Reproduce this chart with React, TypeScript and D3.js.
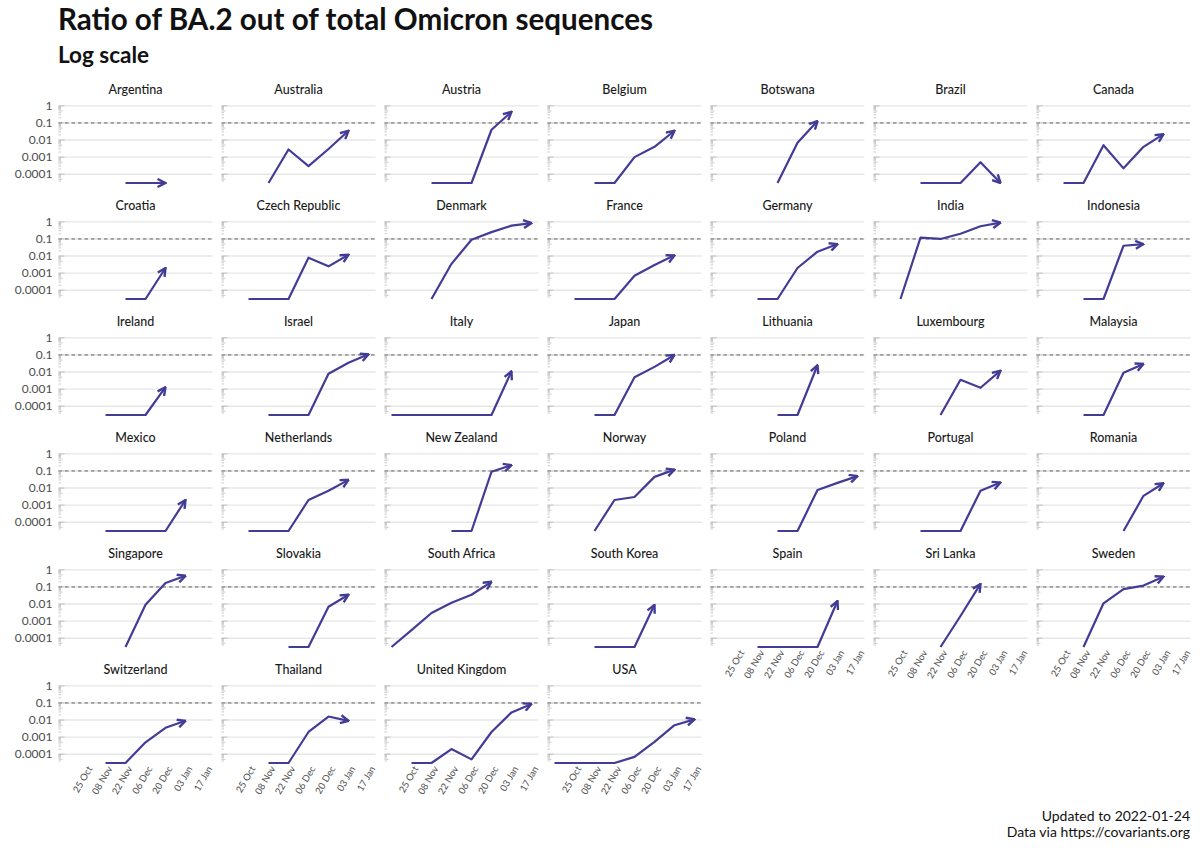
import * as React from "react";
import * as d3 from "d3";

// biweekly bins (covariants.org)
const dates = [
  "2021-10-11", "2021-10-25", "2021-11-08", "2021-11-22",
  "2021-12-06", "2021-12-20", "2022-01-03", "2022-01-17",
];

const countries = [
  "Argentina", "Australia", "Austria", "Belgium", "Botswana", "Brazil", "Canada",
  "Croatia", "Czech Republic", "Denmark", "France", "Germany", "India", "Indonesia",
  "Ireland", "Israel", "Italy", "Japan", "Lithuania", "Luxembourg", "Malaysia",
  "Mexico", "Netherlands", "New Zealand", "Norway", "Poland", "Portugal", "Romania",
  "Singapore", "Slovakia", "South Africa", "South Korea", "Spain", "Sri Lanka", "Sweden",
  "Switzerland", "Thailand", "United Kingdom", "USA",
];

const n = null;
// BA.2 / all Omicron, one row per country, aligned with dates (0 = none found)
const ratios: (number | null)[][] = [
  [n, n, n, 0, 0, 0, n, n], // Argentina
  [n, n, 0, 0.0028, 0.0003, 0.003, 0.035, n], // Australia
  [n, n, 0, 0, 0, 0.04, 0.45, n], // Austria
  [n, n, 0, 0, 0.001, 0.004, 0.035, n], // Belgium
  [n, n, n, 0, 0.007, 0.13, n, n], // Botswana
  [n, n, 0, 0, 0, 0.0005, 0, n], // Brazil
  [n, 0, 0, 0.005, 0.00022, 0.004, 0.022, n], // Canada
  [n, n, n, 0, 0, 0.002, n, n], // Croatia
  [n, 0, 0, 0, 0.008, 0.0025, 0.012, n], // Czech Republic
  [n, n, 0, 0.0035, 0.09, 0.25, 0.6, 0.85], // Denmark
  [n, 0, 0, 0, 0.0007, 0.003, 0.011, n], // France
  [n, n, 0, 0, 0.002, 0.018, 0.05, n], // Germany
  [n, 0, 0.12, 0.1, 0.2, 0.55, 0.9, n], // India
  [n, n, 0, 0, 0.04, 0.05, n, n], // Indonesia
  [n, n, 0, 0, 0, 0.0013, n, n], // Ireland
  [n, n, 0, 0, 0, 0.008, 0.035, 0.11], // Israel
  [0, 0, 0, 0, 0, 0, 0.011, n], // Italy
  [n, n, 0, 0, 0.005, 0.02, 0.1, n], // Japan
  [n, n, n, 0, 0, 0.025, n, n], // Lithuania
  [n, n, n, 0, 0.0035, 0.0012, 0.012, n], // Luxembourg
  [n, n, 0, 0, 0.009, 0.03, n, n], // Malaysia
  [n, n, 0, 0, 0, 0, 0.002, n], // Mexico
  [n, 0, 0, 0, 0.002, 0.007, 0.03, n], // Netherlands
  [n, n, n, 0, 0, 0.09, 0.22, n], // New Zealand
  [n, n, 0, 0.002, 0.003, 0.045, 0.12, n], // Norway
  [n, n, n, 0, 0, 0.0076, 0.02, 0.05], // Poland
  [n, n, 0, 0, 0, 0.007, 0.021, n], // Portugal
  [n, n, n, n, 0, 0.0035, 0.019, n], // Romania
  [n, n, n, 0, 0.009, 0.17, 0.45, n], // Singapore
  [n, n, n, 0, 0, 0.007, 0.035, n], // Slovakia
  [0, 0.0003, 0.003, 0.012, 0.035, 0.2, n, n], // South Africa
  [n, n, 0, 0, 0, 0.009, n, n], // South Korea
  [n, n, 0, 0, 0, 0, 0.015, n], // Spain
  [n, n, n, 0, 0.002, 0.15, n, n], // Sri Lanka
  [n, n, 0, 0.011, 0.075, 0.12, 0.4, n], // Sweden
  [n, n, 0, 0, 0.0005, 0.0035, 0.009, n], // Switzerland
  [n, n, 0, 0, 0.002, 0.016, 0.009, n], // Thailand
  [n, 0, 0, 0.0002, 0.00005, 0.002, 0.028, 0.088], // United Kingdom
  [0, 0, 0, 0, 0.00007, 0.00053, 0.005, 0.011], // USA
];

const yTicks = [1, 0.1, 0.01, 0.001, 0.0001];
const yTickLabels = ["1", "0.1", "0.01", "0.001", "0.0001"];
const xTicks = ["2021-10-25", "2021-11-08", "2021-11-22", "2021-12-06", "2021-12-20", "2022-01-03", "2022-01-17"];
const refLine = 0.1;

const W = 1200;
const H = 852;
const nCols = 7;
const left0 = 58.5;
const colPitch = 163;
const panelW = 154;
const top0 = 103;
const rowPitch = 116;
const panelH = 80;
const lineColor = "#433c96";
const font = "Lato, 'Noto Sans', sans-serif";

const parse = d3.utcParse("%Y-%m-%d");
const fmt = d3.utcFormat("%d %b");
const dateObjs = dates.map((d) => parse(d) as Date);

// x domain: data range expanded by 5%
const [dMin, dMax] = d3.extent(dateObjs) as [Date, Date];
const xPad = (+dMax - +dMin) * 0.05;
const x = d3
  .scaleUtc()
  .domain([new Date(+dMin - xPad), new Date(+dMax + xPad)])
  .range([0, panelW]);

// y domain: positive values, log10 expanded by 5%
const positives = ratios.flat().filter((v): v is number => v !== null && v > 0);
const lo = Math.log10(d3.min(positives) as number);
const hi = Math.log10(d3.max(positives) as number);
const yPad = (hi - lo) * 0.05;
const y = d3
  .scaleLog()
  .domain([Math.pow(10, lo - yPad), Math.pow(10, hi + yPad)])
  .range([panelH, 0]);
const yPos = (v: number) => (v > 0 ? y(v) : panelH); // zero -> -Inf -> panel bottom

const logTicks: { v: number; len: number }[] = [];
for (let k = -6; k <= 1; k++) {
  for (let m = 1; m <= 9; m++) {
    const v = m * Math.pow(10, k);
    const [a, b] = y.domain();
    if (v >= a && v <= b) logTicks.push({ v, len: m === 1 ? 6 : m === 5 ? 4 : 2.5 });
  }
}

const line = d3
  .line<{ date: Date; v: number | null }>()
  .defined((d) => d.v !== null)
  .x((d) => x(d.date))
  .y((d) => yPos(d.v as number));

function Panel({ idx }: { idx: number }) {
  const col = idx % nCols;
  const row = Math.floor(idx / nCols);
  const tx = left0 + col * colPitch;
  const ty = top0 + row * rowPitch;
  const pts = dates.map((_, i) => ({ date: dateObjs[i], v: ratios[idx][i] }));
  const hasBelow = idx + nCols < countries.length;
  return (
    <g transform={`translate(${tx},${ty})`}>
      <text x={panelW / 2} y={-9} textAnchor="middle" fontSize={12.5} fontWeight={500} fill="#1a1a1a">
        {countries[idx]}
      </text>
      {yTicks.map((t) => (
        <line key={t} x1={0} x2={panelW} y1={y(t)} y2={y(t)} stroke="#e6e6e6" strokeWidth={1.4} />
      ))}
      <line x1={0} x2={panelW} y1={y(refLine)} y2={y(refLine)} stroke="#555" strokeWidth={0.9} strokeDasharray="3.5,3" />
      {logTicks.map((t, i) => (
        <line key={i} x1={0} x2={t.len} y1={y(t.v)} y2={y(t.v)} stroke="#a8a8a8" strokeWidth={0.6} />
      ))}
      {col === 0 &&
        yTicks.map((t, i) => (
          <text key={t} x={-6} y={y(t)} dy="0.35em" textAnchor="end" fontSize={12} fill="#4d4d4d">
            {yTickLabels[i]}
          </text>
        ))}
      {!hasBelow &&
        xTicks.map((t) => {
          const px = x(parse(t) as Date);
          return (
            <text
              key={t}
              transform={`translate(${px + 1},${panelH + 2}) rotate(-60)`}
              dy="0.75em"
              textAnchor="end"
              fontSize={9.5}
              fill="#4d4d4d"
            >
              {fmt(parse(t) as Date)}
            </text>
          );
        })}
      <path d={line(pts) || ""} fill="none" stroke={lineColor} strokeWidth={2.2} strokeLinejoin="round" markerEnd="url(#arr)" />
    </g>
  );
}

export default function App() {
  return (
    <svg width={W} height={H} style={{ position: "absolute", left: 0, top: 0, background: "#fff" }} fontFamily={font}>
      <defs>
        <marker id="arr" viewBox="0 0 10 10" refX={9} refY={5} markerWidth={10} markerHeight={10} markerUnits="userSpaceOnUse" orient="auto">
          <path d="M1,1 L9,5 L1,9" fill="none" stroke={lineColor} strokeWidth={2.4} strokeLinejoin="miter" />
        </marker>
      </defs>
      <rect width={W} height={H} fill="#fff" />
      <text x={58} y={30} fontSize={29.6} fontWeight={700} fill="#111">
        Ratio of BA.2 out of total Omicron sequences
      </text>
      <text x={58} y={63} fontSize={22.5} fontWeight={700} fill="#111">
        Log scale
      </text>
      {countries.map((c, i) => (
        <Panel key={c} idx={i} />
      ))}
      <text x={1190} y={821} textAnchor="end" fontSize={14} fill="#111">
        Updated to 2022-01-24
      </text>
      <text x={1190} y={836.5} textAnchor="end" fontSize={14} fill="#111">
        Data via https://covariants.org
      </text>
    </svg>
  );
}
